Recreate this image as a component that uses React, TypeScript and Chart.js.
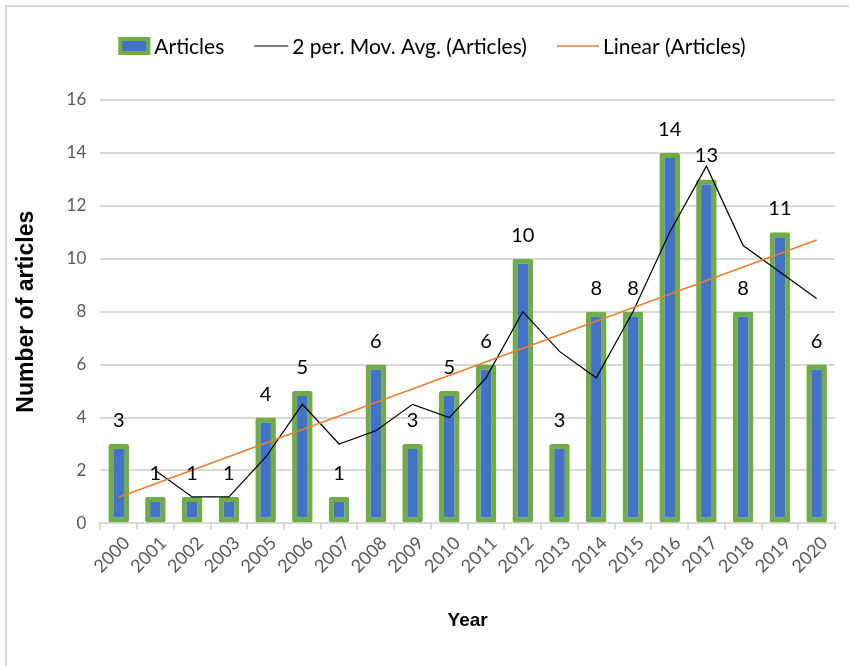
import { useEffect, useRef } from "react";
import { Chart, registerables } from "chart.js";

Chart.register(...registerables);

const years = ["2000", "2001", "2002", "2003", "2005", "2006", "2007", "2008", "2009", "2010", "2011", "2012", "2013", "2014", "2015", "2016", "2017", "2018", "2019", "2020"];
const articles = [3, 1, 1, 1, 4, 5, 1, 6, 3, 5, 6, 10, 3, 8, 8, 14, 13, 8, 11, 6];
const movingAvg = [null, 2, 1, 1, 2.5, 4.5, 3, 3.5, 4.5, 4, 5.5, 8, 6.5, 5.5, 8, 11, 13.5, 10.5, 9.5, 8.5];
const linearTrend = [0.99, null, null, null, null, null, null, null, null, null, null, null, null, null, null, null, null, null, null, 10.71];
const legendLabels = ["Articles", "2 per. Mov. Avg. (Articles)", "Linear (Articles)"];

const BLUE = "#4472c4";
const GREEN = "#70ad47";
const ORANGE = "#ed7d31";
const GRID = "#d9d9d9";
const TICK = "#595959";

const dataLabelPlugin = {
  id: "dataLabels",
  afterDatasetsDraw(chart: any) {
    const ctx = chart.ctx;
    const meta = chart.getDatasetMeta(0);
    ctx.save();
    ctx.font = "20px Lato";
    ctx.fillStyle = "#000000";
    ctx.textAlign = "center";
    ctx.textBaseline = "alphabetic";
    meta.data.forEach((el: any, i: number) => {
      ctx.fillText(String(articles[i]), el.x, el.y - 17);
    });
    ctx.restore();
  },
};

const legendPlugin = {
  id: "customLegend",
  afterDraw(chart: any) {
    const ctx = chart.ctx;
    ctx.save();
    ctx.font = "21px Lato";
    ctx.textBaseline = "middle";
    ctx.textAlign = "left";
    const symW = [32, 34, 42];
    const gapText = 4;
    const gapItem = 30;
    const widths = legendLabels.map((t, i) => symW[i] + gapText + ctx.measureText(t).width);
    const total = widths.reduce((a, b) => a + b, 0) + gapItem * (legendLabels.length - 1);
    const cy = 46;
    let x = 432 - total / 2;
    legendLabels.forEach((t, i) => {
      const ds = chart.data.datasets[i];
      if (i === 0) {
        ctx.fillStyle = ds.borderColor;
        ctx.fillRect(x, cy - 9, symW[i], 18);
        ctx.fillStyle = ds.backgroundColor;
        ctx.fillRect(x + 4, cy - 5, symW[i] - 8, 10);
      } else {
        ctx.strokeStyle = ds.borderColor;
        ctx.lineWidth = ds.borderWidth;
        ctx.beginPath();
        ctx.moveTo(x, cy);
        ctx.lineTo(x + symW[i], cy);
        ctx.stroke();
      }
      ctx.fillStyle = "#000000";
      ctx.fillText(t, x + symW[i] + gapText, cy + 1);
      x += widths[i] + gapItem;
    });
    ctx.restore();
  },
};

export default function App() {
  const ref = useRef<HTMLCanvasElement | null>(null);
  useEffect(() => {
    if (!ref.current) return;
    const chart = new Chart(ref.current, {
      type: "bar",
      data: {
        labels: years,
        datasets: [
          {
            type: "bar",
            label: legendLabels[0],
            data: articles,
            backgroundColor: BLUE,
            borderColor: GREEN,
            borderWidth: 5,
            borderSkipped: false,
            borderRadius: 2,
            barPercentage: 0.56,
            categoryPercentage: 1,
            order: 2,
          },
          {
            type: "line",
            label: legendLabels[1],
            data: movingAvg,
            borderColor: "#000000",
            backgroundColor: "#000000",
            borderWidth: 1.2,
            pointRadius: 0,
            tension: 0,
            order: 1,
          },
          {
            type: "line",
            label: legendLabels[2],
            data: linearTrend,
            borderColor: ORANGE,
            backgroundColor: ORANGE,
            borderWidth: 1.5,
            pointRadius: 0,
            spanGaps: true,
            tension: 0,
            order: 0,
          },
        ] as any,
      },
      options: {
        animation: false,
        responsive: false,
        maintainAspectRatio: false,
        layout: { padding: { top: 100, left: 13, right: 14, bottom: 34 } },
        plugins: {
          legend: { display: false },
          tooltip: { enabled: false },
        },
        scales: {
          x: {
            offset: true,
            grid: { offset: true, drawOnChartArea: false, drawTicks: true, tickLength: 6, color: GRID, lineWidth: 2 },
            border: { color: GRID, width: 2 },
            ticks: { maxRotation: 45, minRotation: 45, autoSkip: false, color: TICK, font: { family: "Lato", size: 18 }, padding: 3, labelOffset: 8 },
            title: { display: true, text: "Year", color: "#000000", font: { family: "Liberation Sans", size: 19, weight: "bold" }, padding: { top: 29, bottom: 0 } },
          },
          y: {
            min: 0,
            max: 16,
            ticks: { stepSize: 2, color: TICK, font: { family: "Lato", size: 17 }, padding: 14 },
            grid: { color: GRID, lineWidth: 2, drawTicks: false },
            border: { display: false },
            title: { display: true, text: "Number of articles", color: "#000000", font: { family: "Liberation Sans", size: 23, weight: "bold" }, padding: { top: 0, bottom: 12 } },
          },
        },
      },
      plugins: [dataLabelPlugin, legendPlugin],
    });
    return () => chart.destroy();
  }, []);
  return (
    <div style={{ position: "fixed", left: 0, top: 0, width: 849, height: 666, background: "#ffffff", overflow: "hidden" }}>
      <div style={{ position: "absolute", left: 5, top: 5, width: 900, height: 700, borderTop: `2px solid ${GRID}`, borderLeft: `2px solid ${GRID}` }} />
      <canvas ref={ref} width={849} height={666} style={{ position: "absolute", left: 0, top: 0, width: 849, height: 666 }} />
    </div>
  );
}
